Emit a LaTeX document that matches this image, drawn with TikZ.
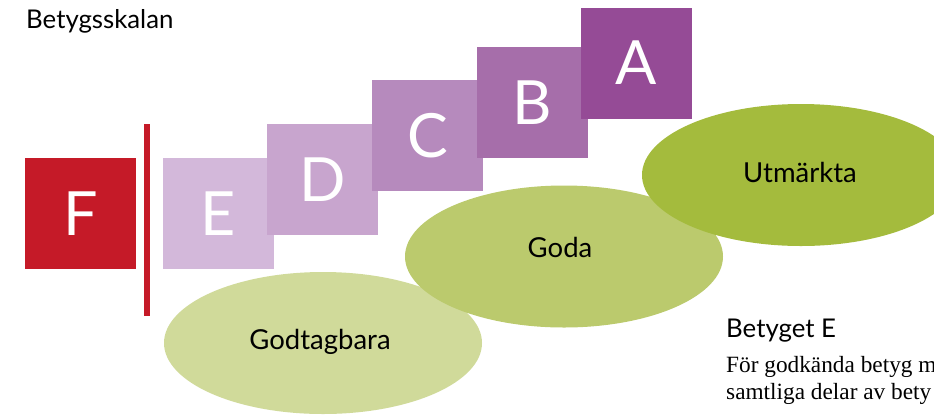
\documentclass[tikz,border=0pt]{standalone}
\usepackage{fontspec}
\setmainfont{Lato}
\newfontfamily\seriffont{Liberation Serif}
\usetikzlibrary{shapes.geometric}
\definecolor{cF}{HTML}{C51A28}
\definecolor{cE}{HTML}{D3B8DA}
\definecolor{cD}{HTML}{C8A5CE}
\definecolor{cC}{HTML}{B68ABD}
\definecolor{cB}{HTML}{A66EAA}
\definecolor{cA}{HTML}{954B96}
\definecolor{gOne}{HTML}{D0DA9A}
\definecolor{gTwo}{HTML}{BBCA6D}
\definecolor{gThree}{HTML}{A4BB3D}
\tikzset{
  gradebox/.style={rectangle, minimum width=111pt, minimum height=111pt, inner sep=0pt, draw=none, text=white, font=\fontsize{61}{61}\selectfont},
  blob/.style={ellipse, minimum width=318pt, minimum height=142pt, inner sep=0pt, draw=none},
  blobtext/.style={font=\fontsize{27.5}{32}\selectfont, text=black, inner sep=0pt},
  headtext/.style={font=\fontsize{25.8}{30}\selectfont, text=black, inner sep=0pt, anchor=base west},
  bodytext/.style={font=\seriffont\fontsize{23.3}{27}\selectfont, text=black, inner sep=0pt, anchor=base west},
  divider/.style={draw=cF, line width=5.5pt}
}
\begin{document}
\begin{tikzpicture}[x=1pt,y=-1pt]
\useasboundingbox (0,0) rectangle (934,416);
\clip (0,0) rectangle (934,416);
\node[headtext] (title) at (26,28) {Betygsskalan};
% grade boxes
\node[gradebox, fill=cF] (F) at (80.5,213.5) {F};
\coordinate (lineTop) at (147,124);
\coordinate (lineBot) at (147,316);
\draw[divider] (lineTop) -- (lineBot);
\node[gradebox, fill=cE] (E) at (218.5,213.5) {E};
\node[gradebox, fill=cD] (D) at (322.5,179.5) {D};
\node[gradebox, fill=cC] (C) at (427.5,135.5) {C};
\node[gradebox, fill=cB] (B) at (532.5,102.5) {B};
\node[gradebox, fill=cA] (A) at (636.5,63) {A};
% ellipses
\node[blob, fill=gOne] (godtagbara) at (323,343) {};
\node[blobtext] (godtagbaraT) at (320,342) {Godtagbara};
\node[blob, fill=gTwo] (goda) at (564,256.5) {};
\node[blobtext] (godaT) at (560,247) {Goda};
\node[blob, fill=gThree] (utm) at (801,175) {};
\node[blobtext] (utmT) at (800,172) {Utmärkta};
% right text
\node[headtext] (betE) at (726,337) {Betyget E};
\node[bodytext] (l1) at (726,372) {För godkända betyg m};
\node[bodytext] (l2) at (726,399) {samtliga delar av bety};
\end{tikzpicture}
\end{document}
